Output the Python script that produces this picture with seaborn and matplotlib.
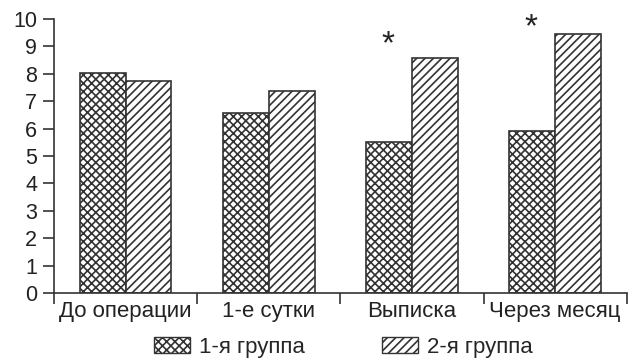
import matplotlib
matplotlib.use('Agg')
import matplotlib.pyplot as plt
import numpy as np
import pandas as pd
import seaborn as sns
from matplotlib.patches import Patch

periods = ['До операции', '1-е сутки', 'Выписка', 'Через месяц']
groups = ['1-я группа', '2-я группа']
group1 = [8.05, 6.58, 5.52, 5.9]
group2 = [7.75, 7.37, 8.57, 9.47]
star_y = [None, None, 9.05, 9.7]   # heights of the significance marks
hatches = ['xxxx', '////']

df = pd.DataFrame({
    'period': periods * 2,
    'group': [groups[0]] * 4 + [groups[1]] * 4,
    'value': group1 + group2,
})

sns.set_style('white')
plt.rcParams['font.family'] = ['Liberation Sans', 'DejaVu Sans']
plt.rcParams['hatch.linewidth'] = 1.2
plt.rcParams['hatch.color'] = '#222222'

fig = plt.figure(figsize=(6.28, 3.6), dpi=100)
ax = fig.add_axes([0.086, 0.186, 0.912, 0.761])

sns.barplot(data=df, x='period', y='value', hue='group', order=periods,
            hue_order=groups, width=0.64, palette=['white', 'white'],
            edgecolor='#333333', linewidth=1.2, legend=False, ax=ax)

for i, bar in enumerate(ax.patches[:8]):
    bar.set_hatch(hatches[i // 4])

# stars above group 1 bars
for i, y in enumerate(star_y):
    if y is not None:
        ax.text(i - 0.17, y, '*', ha='center', va='center', fontsize=24, color='#222222')

ax.set_xlim(-0.5, 3.5)
ax.set_ylim(0, 10)
ax.set_yticks(range(0, 11))
ax.set_xticks(range(4))
ax.set_xticklabels(periods)
ax.set_xticks(np.arange(-0.5, 4, 1), minor=True)
ax.tick_params(axis='x', which='major', bottom=False, length=0, labelsize=16, pad=6,
               colors='#222222')
ax.tick_params(axis='x', which='minor', bottom=True, length=8, width=1.2, direction='out',
               color='#333333')
ax.tick_params(axis='y', left=True, length=8, width=1.2, direction='out', labelsize=15.5,
               pad=4, colors='#222222')
ax.tick_params(axis='y', color='#333333')
ax.set_xlabel('')
ax.set_ylabel('')
sns.despine(ax=ax)
for s in ['left', 'bottom']:
    ax.spines[s].set_color('#333333')
    ax.spines[s].set_linewidth(1.2)

handles = [Patch(facecolor='white', edgecolor='#333333', hatch=h, label=g)
           for g, h in zip(groups, hatches)]
fig.legend(handles=handles, loc='center', bbox_to_anchor=(0.547, 0.036), ncol=2,
           frameon=False, fontsize=16, handlelength=1.6, handleheight=0.7,
           columnspacing=3.5, handletextpad=0.4, borderpad=0.2)

fig.savefig('out.png', dpi=100)
